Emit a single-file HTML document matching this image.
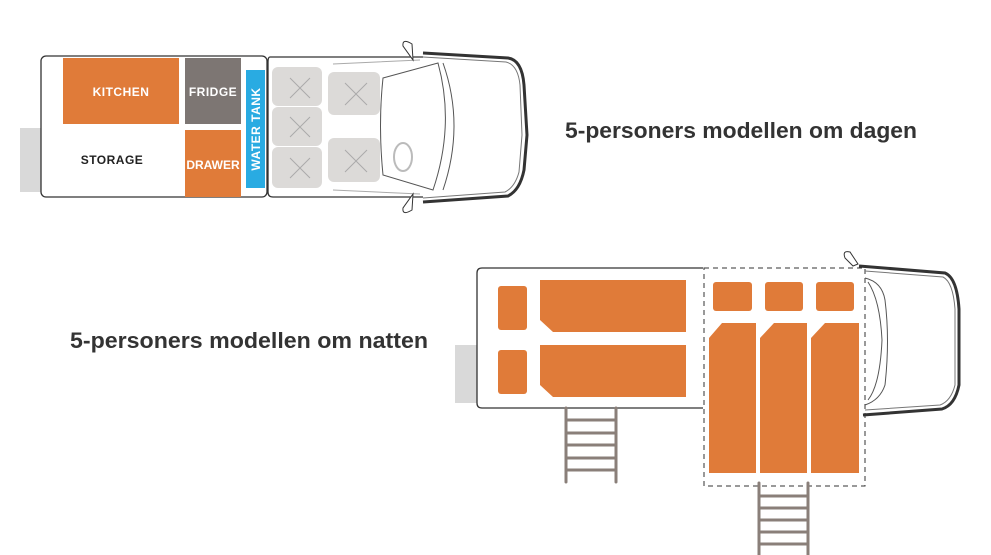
<!DOCTYPE html>
<html><head><meta charset="utf-8"><style>
html,body{margin:0;padding:0;background:#fff;}
svg{display:block;}
text{font-family:"Liberation Sans",sans-serif;font-weight:bold;}
</style></head><body>
<svg width="991" height="555" viewBox="0 0 991 555" xmlns="http://www.w3.org/2000/svg">
<!-- TOP VAN -->
<rect x="20" y="128" width="22" height="64" fill="#d9d9d9"/>
<rect x="41" y="56" width="226" height="141" rx="5" fill="#fff" stroke="#333" stroke-width="1.3"/>
<rect x="63" y="58" width="116" height="66" fill="#e07b39"/>
<text x="121" y="96" fill="#fff" font-size="12" text-anchor="middle" letter-spacing="0.5">KITCHEN</text>
<rect x="185" y="58" width="56" height="66" fill="#7d7673"/>
<text x="213" y="96" fill="#fff" font-size="12" text-anchor="middle" letter-spacing="0.5">FRIDGE</text>
<rect x="185" y="130" width="56" height="67" fill="#e07b39"/>
<text x="213" y="169" fill="#fff" font-size="12" text-anchor="middle">DRAWER</text>
<rect x="246" y="70" width="19" height="118" fill="#29abe2"/>
<text transform="translate(260,129) rotate(-90)" fill="#fff" font-size="12" text-anchor="middle" letter-spacing="0.5">WATER TANK</text>
<text x="112" y="164" fill="#222" font-size="12" text-anchor="middle" letter-spacing="0.5">STORAGE</text>
<!-- cab -->
<path d="M270 57 H423 M270 57 Q268 57 268 62 V192 Q268 197 273 197 H423" fill="none" stroke="#333" stroke-width="1.3"/>
<path d="M423 53 L508 58 Q522 60 524 85 L527 135 L524 170 Q520 190 508 196 L423 202" fill="none" stroke="#333" stroke-width="3"/>
<path d="M423 57 L506 62 Q518 65 520 85 L522 135 L519 172 Q515 187 505 192 L423 198" fill="none" stroke="#777" stroke-width="1"/>
<path d="M383 78 L438 63 Q455 125 433 190 L383 175 Q378 125 383 78 Z" fill="none" stroke="#555" stroke-width="1"/>
<path d="M443 63 Q465 125 443 190" fill="none" stroke="#555" stroke-width="1"/>
<path d="M333 64 L420 60 M333 190 L420 194" stroke="#aaa" stroke-width="1"/>
<ellipse cx="403" cy="157" rx="9" ry="14" fill="none" stroke="#bbb" stroke-width="2"/>
<path d="M412 44 Q402 38 403 46 L413 60 Z M412 210 Q402 216 403 208 L413 194 Z" fill="#fff" stroke="#333" stroke-width="1"/>
<g fill="#dcdad8">
<rect x="272" y="67" width="50" height="39" rx="6"/>
<rect x="272" y="107" width="50" height="39" rx="6"/>
<rect x="272" y="147" width="50" height="41" rx="6"/>
<rect x="328" y="72" width="52" height="43" rx="6"/>
<rect x="328" y="138" width="52" height="44" rx="6"/>
</g>
<g stroke="#aaa" stroke-width="1">
<path d="M290 78 l20 20 M310 78 l-20 20 M290 117 l20 20 M310 117 l-20 20 M290 158 l20 20 M310 158 l-20 20 M345 83 l22 22 M367 83 l-22 22 M345 150 l22 22 M367 150 l-22 22"/>
</g>
<text x="565" y="138" fill="#333" font-size="22" textLength="352" lengthAdjust="spacingAndGlyphs">5-personers modellen om dagen</text>
<text x="70" y="348" fill="#333" font-size="22" textLength="358" lengthAdjust="spacingAndGlyphs">5-personers modellen om natten</text>
<!-- BOTTOM VAN -->
<rect x="455" y="345" width="23" height="58" fill="#d9d9d9"/>
<path d="M703 268 H482 Q477 268 477 273 V403 Q477 408 482 408 H703" fill="#fff" stroke="#333" stroke-width="1.3"/>
<g fill="#e07b39">
<rect x="498" y="286" width="29" height="44" rx="3"/>
<rect x="498" y="350" width="29" height="44" rx="3"/>
<path d="M540 280 H686 V332 H553 L540 320 Z"/>
<path d="M540 345 H686 V397 H553 L540 385 Z"/>
<rect x="713" y="282" width="39" height="29" rx="3"/>
<rect x="765" y="282" width="38" height="29" rx="3"/>
<rect x="816" y="282" width="38" height="29" rx="3"/>
<path d="M722 323 H756 V473 H709 V338 Z"/>
<path d="M774 323 H807 V473 H760 V338 Z"/>
<path d="M825 323 H859 V473 H811 V338 Z"/>
</g>
<rect x="704" y="268" width="161" height="218" fill="none" stroke="#333" stroke-width="1" stroke-dasharray="5,4"/>
<path d="M859 266 L945 273 Q957 278 959 309 L959 385 Q955 405 942 409 L863 415" fill="none" stroke="#333" stroke-width="3"/>
<path d="M865 271 L943 277 Q953 282 955 309 L955 385 Q951 401 940 405 L865 410" fill="none" stroke="#777" stroke-width="1"/>
<path d="M865 278 Q882 282 885 300 Q890 340 885 385 Q880 400 865 405" fill="none" stroke="#555" stroke-width="1"/>
<path d="M868 282 Q880 300 882 340 Q880 385 868 400" fill="none" stroke="#555" stroke-width="1"/>
<path d="M850 252 Q842 250 845 258 L853 266 L858 264 Z" fill="#fff" stroke="#333" stroke-width="1"/>
<g stroke="#8a7f79" stroke-width="3" stroke-linecap="round">
<path d="M566 408 V482 M616 408 V482 M566 420 H616 M566 433 H616 M566 445 H616 M566 458 H616 M566 470 H616"/>
<path d="M759 483 V555 M808 483 V555 M759 496 H808 M759 508 H808 M759 520 H808 M759 532 H808 M759 544 H808"/>
</g>
</svg>
</body></html>
